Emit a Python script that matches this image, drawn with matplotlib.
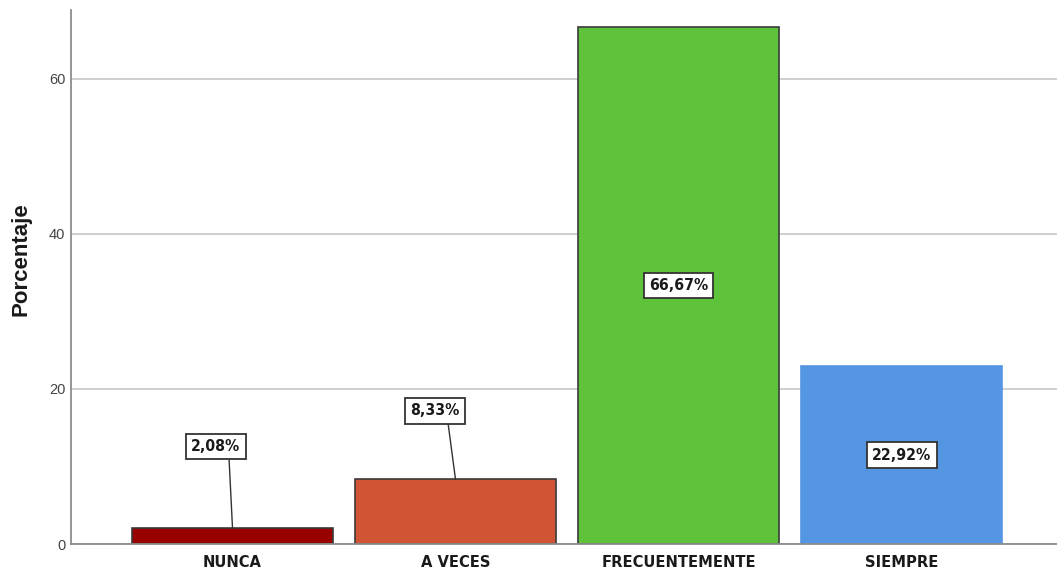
import matplotlib
matplotlib.use("Agg")
import matplotlib.pyplot as plt
from matplotlib import font_manager
from matplotlib.font_manager import FontProperties

categories = ["NUNCA", "A VECES", "FRECUENTEMENTE", "SIEMPRE"]
percentages = [2.08, 8.33, 66.67, 22.92]
value_labels = ["2,08%", "8,33%", "66,67%", "22,92%"]
bar_colors = ["#990000", "#D15434", "#5EC33A", "#5596E3"]
edge_colors = ["#3a3a3a", "#3a3a3a", "#3a3a3a", "#5596E3"]
y_ticks = [0, 20, 40, 60]

installed = {f.name for f in font_manager.fontManager.ttflist}
plain = "Liberation Sans" if "Liberation Sans" in installed else "DejaVu Sans"

# condensed bold face for category and value labels
cond_path = font_manager.findfont(
    FontProperties(family="DejaVu Sans", stretch="condensed", weight="bold"))
have_condensed = "Condensed" in cond_path
if have_condensed:
    narrow = dict(family="DejaVu Sans", fontstretch="condensed")
    cat_size, val_size = 11.8, 11.3
else:
    narrow = dict(family=plain)
    cat_size, val_size = 11, 10.5

fig = plt.figure(figsize=(10.57, 5.73), dpi=100)
ax = fig.add_axes([0.0672, 0.0506, 0.9328, 0.932])

x = list(range(len(categories)))
ax.bar(x, percentages, width=0.9, color=bar_colors, edgecolor=edge_colors,
       linewidth=1.2, zorder=3)

ax.set_xlim(-0.724, 3.697)
ax.set_ylim(0, 68.9)
ax.set_yticks(y_ticks)
ax.set_yticklabels([str(t) for t in y_ticks], fontsize=10.5, color="#444444",
                   family=plain)
ax.set_xticks(x)
ax.set_xticklabels(categories, fontsize=cat_size, fontweight="bold",
                   color="#1a1a1a", **narrow)
ax.tick_params(axis="x", length=0, pad=8)
ax.tick_params(axis="y", length=0, pad=4)

ax.grid(axis="y", color="#cccccc", linewidth=1.3, zorder=0)
for side in ("top", "right"):
    ax.spines[side].set_visible(False)
for side in ("left", "bottom"):
    ax.spines[side].set_color("#8c8c8c")
    ax.spines[side].set_linewidth(1.3)
    ax.spines[side].set_zorder(4)

ax.set_ylabel("Porcentaje", fontsize=16, fontweight="bold", family=plain,
              color="#1a1a1a")
ax.yaxis.set_label_coords(-0.0396, 0.534)

box = dict(boxstyle="square,pad=0.34", facecolor="white", edgecolor="#333333",
           linewidth=1.3)
label_kw = dict(ha="center", va="center", fontsize=val_size, fontweight="bold",
                color="#1a1a1a", bbox=box, zorder=6, **narrow)

# small bars: label raised above the bar with a leader line
callouts = {0: (-0.074, 12.6), 1: (-0.094, 17.2)}
for i, (v, txt) in enumerate(zip(percentages, value_labels)):
    if i in callouts:
        dx, ty = callouts[i]
        ax.annotate(txt, xy=(i, v), xytext=(i + dx, ty),
                    arrowprops=dict(arrowstyle="-", color="#333333", lw=1.0,
                                    relpos=(0.76, 0.0), shrinkA=0, shrinkB=0),
                    **label_kw)
    else:
        ax.text(i, v / 2, txt, **label_kw)

fig.savefig("out.png", dpi=100)
